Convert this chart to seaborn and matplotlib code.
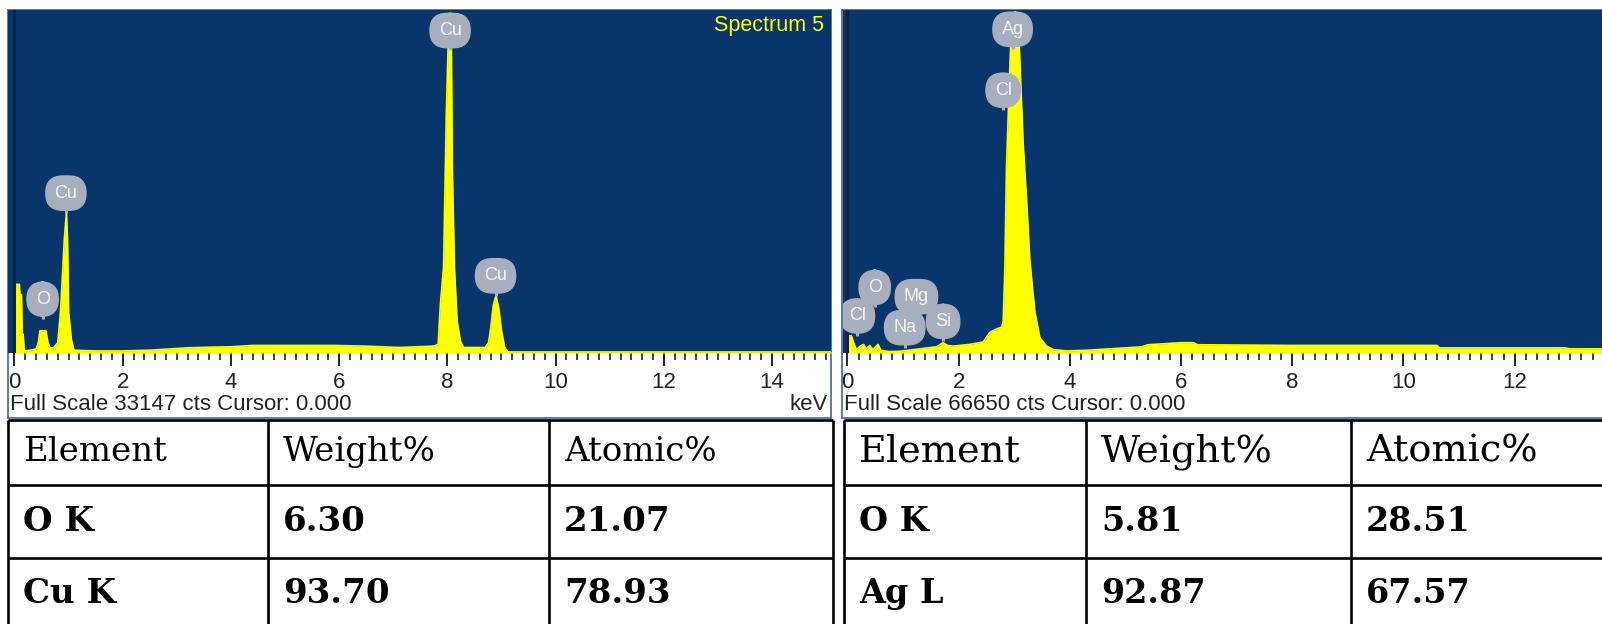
import numpy as np
import matplotlib
matplotlib.use("Agg")
import matplotlib.pyplot as plt
from matplotlib.ticker import MultipleLocator
import seaborn as sns

# ---- Spectrum 5 (Cu sample), energy in keV, counts
cu_kev = [0.00, 0.02, 0.09, 0.10, 0.13, 0.14, 0.16, 0.18, 0.30, 0.40, 0.44, 0.47,
          0.58, 0.62, 0.66, 0.72, 0.80, 0.85, 0.89, 0.92, 0.96, 0.98, 1.00, 1.05,
          1.10, 1.50, 2.00, 2.50, 2.90, 3.20, 3.60, 4.00, 4.40, 5.00, 5.90, 6.50,
          7.10, 7.74, 7.83, 7.87, 7.93, 7.98, 8.03, 8.07, 8.09, 8.13, 8.18, 8.24,
          8.30, 8.70, 8.76, 8.80, 8.85, 8.90, 8.95, 9.00, 9.06, 9.12, 15.10]
cu_cts = [0, 6630, 6630, 5640, 5640, 1820, 1820, 200, 270, 400, 990, 2150,
          2150, 990, 500, 500, 990, 3980, 7790, 10940, 13590, 10940, 3980, 1330,
          270, 200, 200, 270, 400, 500, 560, 600, 730, 730, 730, 660,
          530, 660, 830, 4640, 8290, 22870, 32820, 32820, 18230, 8290, 3120, 1160,
          530, 530, 990, 2320, 4640, 5540, 4310, 2150, 530, 100, 100]
cu_full_scale = 33147
cu_lines = ["O", "Cu", "Cu", "Cu"]
cu_lines_kev = [0.52, 0.95, 8.05, 8.89]
cu_lines_cts = [5200, 15450, 31160, 7460]

# ---- second spectrum (Ag sample)
ag_kev = [0.00, 0.01, 0.07, 0.10, 0.16, 0.23, 0.29, 0.34, 0.40, 0.46, 0.55, 0.60,
          0.75, 0.94, 1.30, 1.60, 1.72, 1.80, 1.90, 2.20, 2.44, 2.56, 2.68, 2.77,
          2.80, 2.83, 2.86, 2.92, 2.95, 3.01, 3.07, 3.10, 3.16, 3.22, 3.28, 3.37,
          3.46, 3.58, 3.70, 3.94, 4.30, 5.30, 5.40, 6.00, 6.22, 6.30, 8.00, 10.60,
          10.65, 12.90, 13.00, 13.60]
ag_cts = [0, 3330, 3330, 2330, 670, 1330, 1670, 800, 1470, 670, 1670, 530,
          270, 330, 800, 1200, 2000, 1470, 1330, 1670, 2130, 4000, 4670, 5000,
          6000, 16000, 36000, 55300, 63300, 66300, 66000, 56650, 40660, 30000, 18000, 8000,
          3000, 1330, 670, 400, 530, 1200, 1600, 2000, 2000, 1600, 1470, 1470,
          1000, 1000, 800, 800]
ag_full_scale = 66650
ag_lines = ["Ag", "Cl", "O", "Mg", "Cl", "Na", "Si"]
ag_lines_kev = [2.97, 2.80, 0.49, 1.24, 0.18, 1.03, 1.72]
ag_lines_cts = [62900, 51050, 12730, 10930, 7200, 4930, 6130]

# ---- quantification tables
table_header = ["Element", "Weight%", "Atomic%"]
cu_table = [["O K", "6.30", "21.07"], ["Cu K", "93.70", "78.93"]]
ag_table = [["O K", "5.81", "28.51"], ["Ag L", "92.87", "67.57"]]

NAVY = "#08356A"
YELLOW = "#FFFF00"
GREY = "#A7AFBE"
FRAME = "#4F6FA0"
INK = "#222222"

sns.set_theme(style="white")
plt.rcParams["font.family"] = ["Liberation Sans", "DejaVu Sans"]

W, H = 1602, 624
fig = plt.figure(figsize=(W / 100, H / 100), dpi=100)


def box(x0, y0, x1, y1):
    return [x0 / W, 1 - y1 / H, (x1 - x0) / W, (y1 - y0) / H]


def spectrum(win, plot, kev, cts, full_scale, xlim, names, names_kev, names_cts, caption):
    # white window with thin blue frame
    fr = fig.add_axes(box(*win), zorder=1)
    fr.set_facecolor("white")
    fr.set_xticks([])
    fr.set_yticks([])
    for s in fr.spines.values():
        s.set_color(FRAME)
        s.set_linewidth(1.3)

    ax = fig.add_axes(box(*plot), zorder=2)
    ax.set_facecolor(NAVY)
    ax.fill_between(kev, cts, 0, color=YELLOW, lw=0)
    sns.lineplot(x=kev, y=cts, ax=ax, color=YELLOW, linewidth=1.2,
                 estimator=None, sort=False)
    ax.axvline(0, color="#17203A", lw=2.2)

    # element markers: grey blob on a short stem
    stem = 0.058 * full_scale
    ax.vlines(names_kev, np.array(names_cts) - stem, names_cts, color=GREY, lw=2.2, zorder=4)
    for n, x, y in zip(names, names_kev, names_cts):
        ax.text(x, y, n, ha="center", va="center", fontsize=13, color="#F6F6F6",
                bbox=dict(boxstyle="round,pad=0.48,rounding_size=0.95", fc=GREY, ec=GREY),
                clip_on=True, zorder=5)

    ax.set_xlim(*xlim)
    ax.set_ylim(0, full_scale)
    ax.set_yticks([])
    ax.xaxis.set_major_locator(MultipleLocator(2))
    ax.xaxis.set_minor_locator(MultipleLocator(0.2))
    ax.tick_params(axis="x", which="major", direction="out", length=9, width=1.4,
                   color=INK, labelcolor=INK, labelsize=16, pad=5, bottom=True)
    ax.tick_params(axis="x", which="minor", direction="out", length=5, width=1.2,
                   color=INK, bottom=True)
    for s in ax.spines.values():
        s.set_visible(False)

    fig.text((win[0] + 2) / W, 1 - 405 / H, caption, fontsize=16, color=INK,
             ha="left", va="center")
    return ax


ax1 = spectrum((8, 10, 831, 418), (8, 10, 831, 353), cu_kev, cu_cts, cu_full_scale,
               (-0.12, 15.09), cu_lines, cu_lines_kev, cu_lines_cts,
               f"Full Scale {cu_full_scale} cts Cursor: 0.000")
fig.text(824 / W, 1 - 25 / H, "Spectrum 5", ha="right", va="center",
         fontsize=15.5, color=YELLOW, zorder=3)
fig.text(828 / W, 1 - 405 / H, "keV", fontsize=16, color=INK, ha="right", va="center")

ax2 = spectrum((842, 10, 1620, 418), (843, 10, 1602, 353), ag_kev, ag_cts, ag_full_scale,
               (-0.08, 13.57), ag_lines, ag_lines_kev, ag_lines_cts,
               f"Full Scale {ag_full_scale} cts Cursor: 0.000")


def table(cols, header, rows, head_size, body_size):
    row_edges = [420, 485, 558, 624]
    baselines = [461, 531, 603]
    t = fig.add_axes(box(cols[0], row_edges[0], cols[-1], row_edges[-1]), zorder=1)
    t.set_xlim(cols[0], cols[-1])
    t.set_ylim(row_edges[-1], row_edges[0])
    t.axis("off")
    t.vlines(cols, row_edges[0], row_edges[-1], color="black", lw=1.9, clip_on=False)
    t.hlines(row_edges[:-1], cols[0], cols[-1], color="black", lw=1.9, clip_on=False)
    for j, txt in enumerate(header):
        t.text(cols[j] + 15, baselines[0], txt, family="DejaVu Serif",
               fontsize=head_size, va="baseline", ha="left", color="black")
    for i, row in enumerate(rows):
        for j, txt in enumerate(row):
            t.text(cols[j] + 15, baselines[i + 1], txt, family="DejaVu Serif",
                   fontweight="bold", fontsize=body_size, va="baseline", ha="left",
                   color="black")


table([8, 268, 549, 833], table_header, cu_table, 24.5, 24.5)
table([844, 1086, 1351, 1620], table_header, ag_table, 27.5, 24)

fig.savefig("out.png", dpi=100)
